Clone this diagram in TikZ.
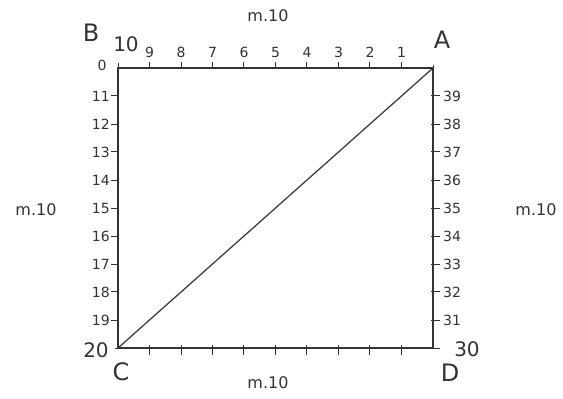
\documentclass[tikz,border=0pt]{standalone}
\usepackage{fontspec}
\setmainfont{DejaVu Sans}
\usetikzlibrary{calc}
\begin{document}
\begin{tikzpicture}[x=1pt,y=-1pt,
  edge/.style={line width=1.2pt,black!80},
  tick/.style={line width=1pt,black!80},
  num/.style={font=\fontsize{14}{14}\selectfont,inner sep=0pt,text=black!80},
  big/.style={font=\fontsize{20}{20}\selectfont,inner sep=0pt,text=black!80},
  corner/.style={font=\fontsize{24}{24}\selectfont,inner sep=0pt,text=black!80},
  meas/.style={font=\fontsize{16}{16}\selectfont,inner sep=0pt,text=black!80}]
\useasboundingbox (0,0) rectangle (563,399);
\fill[white] (0,0) rectangle (563,399);
\coordinate (B) at (118,68);
\coordinate (A) at (433,68);
\coordinate (D) at (433,348);
\coordinate (C) at (118,348);
\draw[edge] (B) -- (A) -- (D) -- (C) -- cycle;
\draw[edge] (C) -- (A);
% top ticks and labels
\draw[tick] ([yshift=-5]B) -- ([yshift=5]B);
\draw[tick] ([yshift=-5]A) -- ([yshift=3]A);
\foreach \k in {1,...,9}{
  \pgfmathtruncatemacro{\lab}{10-\k}
  \draw[tick] ($(B)!\k/10!(A)$) -- ++(0,-6);
  \node[num] (t\k) at ($(B)!\k/10!(A)+(0,-16)$) {\lab};
}
% bottom ticks
\foreach \k in {1,...,9}{
  \draw[tick] ($(C)!\k/10!(D)+(0,-3)$) -- ++(0,10);
}
\draw[tick] ([xshift=-3]C) -- ([xshift=3]C);
% left ticks and labels
\foreach \k in {1,...,9}{
  \pgfmathtruncatemacro{\lab}{10+\k}
  \draw[tick] ($(B)!\k/10!(C)$) -- ++(-7,0);
  \node[num,anchor=east] (l\k) at ($(B)!\k/10!(C)+(-8,0)$) {\lab};
}
% right ticks and labels
\foreach \k in {1,...,9}{
  \pgfmathtruncatemacro{\lab}{40-\k}
  \draw[tick] ($(A)!\k/10!(D)+(-2,0)$) -- ++(9,0);
  \node[num,anchor=west] (r\k) at ($(A)!\k/10!(D)+(10,0)$) {\lab};
}
\draw[tick] ([xshift=-2]D) -- ([xshift=7]D);
% corner labels
\node[num] (zero) at (102,65) {0};
\node[big] (ten) at (126,44) {10};
\node[corner] (lB) at (91,33) {B};
\node[corner] (lA) at (442,40) {A};
\node[big] (twenty) at (96,350) {20};
\node[corner] (lC) at (121,372) {C};
\node[big] (thirty) at (467,349) {30};
\node[corner] (lD) at (450,373) {D};
% measures
\node[meas] (mt) at (268,16) {m.10};
\node[meas] (mb) at (268,383) {m.10};
\node[meas] (ml) at (36,210) {m.10};
\node[meas] (mr) at (536,210) {m.10};
\end{tikzpicture}
\end{document}
